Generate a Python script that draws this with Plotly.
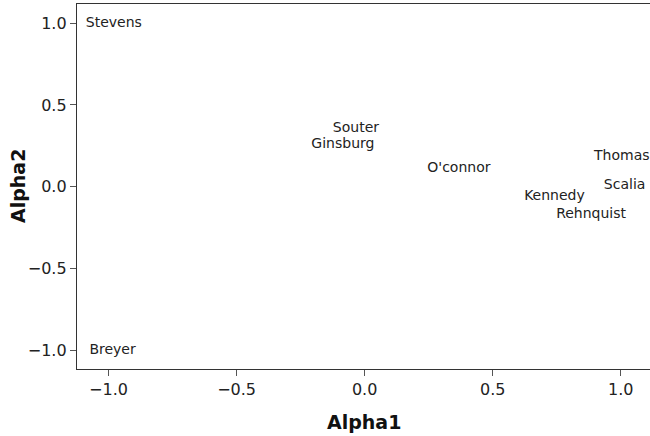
import plotly.graph_objects as go

justices = ["Stevens", "Breyer", "Souter", "Ginsburg", "O'connor",
            "Thomas", "Scalia", "Kennedy", "Rehnquist"]
alpha1 = [-0.979, -0.984, -0.034, -0.085, 0.368, 1.004, 1.015, 0.741, 0.884]
alpha2 = [1.0, -1.0, 0.353, 0.258, 0.113, 0.184, 0.009, -0.06, -0.168]

x_ticks = [-1.0, -0.5, 0.0, 0.5, 1.0]
y_ticks = [-1.0, -0.5, 0.0, 0.5, 1.0]

W, H = 650, 436
ML, MR, MT, MB = 77, 0, 4, 67
pw, ph = W - ML - MR, H - MT - MB

fig = go.Figure(go.Scatter(
    x=alpha1, y=alpha2, text=justices, mode="text",
    textposition="middle center",
    textfont=dict(family="DejaVu Sans", size=14, color="#222222"),
    hoverinfo="skip",
))

fig.update_layout(
    width=W, height=H,
    margin=dict(l=ML, r=MR, t=MT, b=MB),
    paper_bgcolor="white", plot_bgcolor="white",
    showlegend=False,
    font=dict(family="DejaVu Sans", color="#222222"),
    annotations=[
        dict(text="<b>Alpha1</b>", xref="paper", yref="paper",
             x=0.5, y=-(422 - (MT + ph)) / ph, xanchor="center", yanchor="middle",
             showarrow=False, font=dict(size=19, color="#111111")),
        dict(text="<b>Alpha2</b>", xref="paper", yref="paper",
             x=-(ML - 18) / pw, y=1 - (186 - MT) / ph,
             xanchor="center", yanchor="middle", textangle=-90,
             showarrow=False, font=dict(size=19, color="#111111")),
    ],
)
fig.update_xaxes(
    range=[-1.123, 1.114], tickvals=x_ticks,
    ticktext=[("\u2212" if v < 0 else "") + f"{abs(v):.1f}" for v in x_ticks],
    showgrid=False, zeroline=False,
    showline=True, mirror=True, linecolor="#333333", linewidth=1.3,
    ticks="outside", ticklen=6, tickcolor="#555555",
    tickfont=dict(size=16),
)
fig.update_yaxes(
    range=[-1.115, 1.117], tickvals=y_ticks,
    ticktext=[("\u2212" if v < 0 else "") + f"{abs(v):.1f}" for v in y_ticks],
    showgrid=False, zeroline=False,
    showline=True, mirror=False, linecolor="#333333", linewidth=1.3,
    ticks="outside", ticklen=6, tickcolor="#555555",
    tickfont=dict(size=16),
)

fig.write_html("out.html")
